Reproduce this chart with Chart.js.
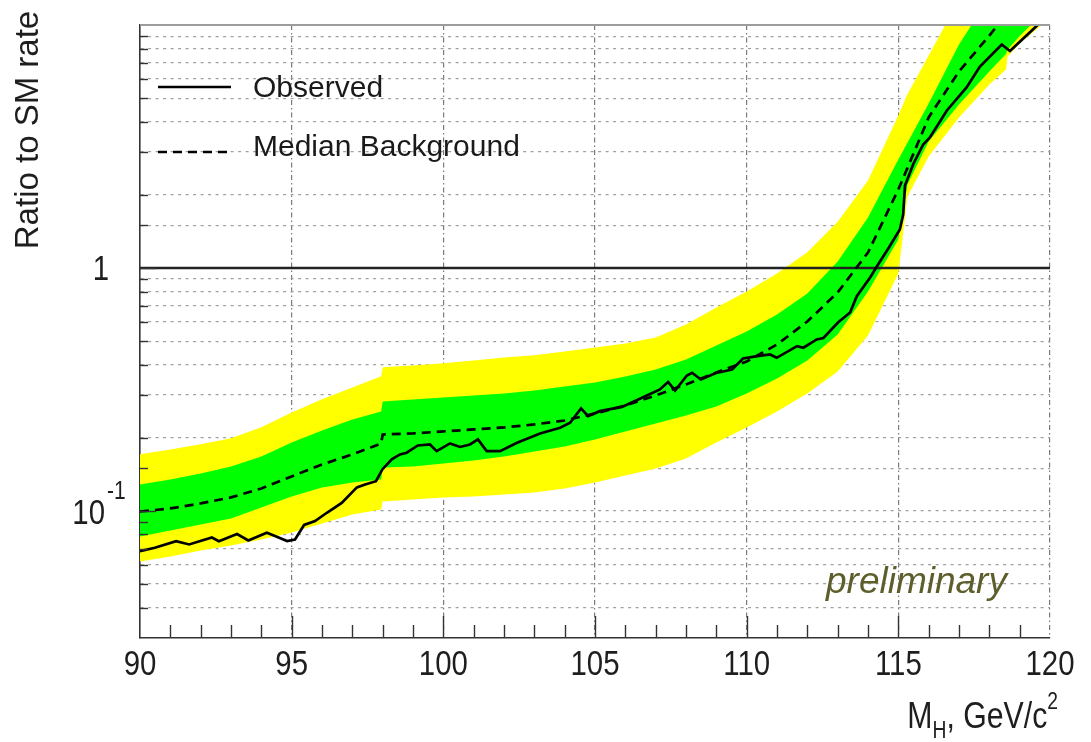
<!DOCTYPE html>
<html>
<head>
<meta charset="utf-8">
<title>Ratio to SM rate vs M_H</title>
<script src="https://cdn.jsdelivr.net/npm/chart.js@4.4.1/dist/chart.umd.min.js"></script>
<style>
  html, body { margin: 0; padding: 0; background: #ffffff; }
  canvas { display: block; }
</style>
</head>
<body>
<canvas id="limit" width="1091" height="742"></canvas>
<script>
// Higgs mass grid (GeV/c^2) shared by the expected-limit bands and the median
const BAND_MASS = [90, 91, 92, 93, 94, 95, 96, 97, 97.95, 98, 99, 100, 101, 102, 103, 104, 105, 106, 107, 108,
                   109, 110, 111, 112, 113, 114, 115, 115.3, 116, 117, 118, 118.55, 118.6, 119, 120];

// upper / lower edges of the 2-sigma (yellow) band
const YELLOW_HI = [0.171, 0.179, 0.188, 0.199, 0.221, 0.254, 0.288, 0.322, 0.358, 0.390, 0.397, 0.405, 0.416, 0.428,
                   0.437, 0.453, 0.471, 0.489, 0.518, 0.585, 0.688, 0.800, 0.949, 1.16, 1.55, 2.29, 4.24, 5.19, 7.49,
                   12.7, 20, 24, 24.5, 30, 40];
const YELLOW_LO = [0.0620, 0.0650, 0.0688, 0.0721, 0.0763, 0.0815, 0.0888, 0.0967, 0.1014, 0.1094, 0.1115, 0.1137,
                   0.1147, 0.1169, 0.1191, 0.1238, 0.1310, 0.1400, 0.1496, 0.1644, 0.1913, 0.2206, 0.2567, 0.3044,
                   0.3750, 0.5276, 0.9493, 1.969, 2.876, 4.163, 5.690, 6.561, 7.4, 8.4, 10.7];

// upper / lower edges of the 1-sigma (green) band
const GREEN_HI = [0.1285, 0.1348, 0.1427, 0.1524, 0.1676, 0.1913, 0.2145, 0.2379, 0.2567, 0.2822, 0.2875, 0.2931,
                  0.2987, 0.3044, 0.3132, 0.3253, 0.3379, 0.3577, 0.3822, 0.4202, 0.4799, 0.5479, 0.6435, 0.7854,
                  1.063, 1.614, 2.796, 3.28, 4.753, 8.31, 13, 16, 16.3, 20, 30];
const GREEN_LO = [0.0785, 0.0831, 0.0880, 0.0931, 0.1034, 0.1147, 0.1249, 0.1310, 0.1348, 0.1510, 0.1524, 0.1568,
                  0.1613, 0.1676, 0.1757, 0.1842, 0.1968, 0.2124, 0.2292, 0.2472, 0.2692, 0.3044, 0.3509, 0.4163,
                  0.5324, 0.8003, 1.310, 2.206, 3.316, 4.708, 6.437, 7.6, 7.9, 9.0, 12];

// median expected limit for background only
const MEDIAN = [0.0995, 0.1024, 0.1074, 0.1137, 0.1238, 0.1387, 0.1553, 0.1709, 0.1896, 0.2064, 0.2085, 0.2125,
                0.2165, 0.2206, 0.2270, 0.2357, 0.2518, 0.2717, 0.2987, 0.3317, 0.3715, 0.4123, 0.4843, 0.6022,
                0.7929, 1.158, 2.104, 2.58, 4.163, 6.437, 9.05, 11, 11.2, 13, 18];

// observed limit
const OBS_MASS = [90.00, 90.49, 91.19, 91.62, 92.37, 92.60, 93.20, 93.57, 94.18, 94.45,
                  94.85, 95.11, 95.41, 95.77, 96.16, 96.65, 97.15, 97.42, 97.78, 97.99,
                  98.30, 98.57, 98.79, 99.16, 99.56, 99.78, 100.22, 100.55, 100.88, 101.14,
                  101.43, 101.87, 102.43, 103.19, 103.85, 104.18, 104.54, 104.77, 105.16, 105.89,
                  106.55, 107.14, 107.41, 107.64, 108.03, 108.20, 108.49, 108.99, 109.52, 109.88,
                  110.35, 110.77, 110.99, 111.66, 111.87, 112.31, 112.53, 113.01, 113.41, 113.63,
                  114.07, 114.29, 114.69, 115.05, 115.16, 115.22, 115.49, 115.82, 116.04, 116.60,
                  117.25, 117.69, 118.41, 118.68, 119.56, 119.84];
const OBS_RATIO = [0.0683, 0.0706, 0.0751, 0.0728, 0.0778, 0.0751, 0.0804, 0.0756, 0.0813, 0.0788,
                   0.0752, 0.0763, 0.0876, 0.0908, 0.0983, 0.108, 0.125, 0.1285, 0.1326, 0.1482,
                   0.163, 0.1709, 0.1736, 0.186, 0.1878, 0.1762, 0.1896, 0.1834, 0.1878, 0.197,
                   0.1762, 0.1762, 0.1909, 0.2085, 0.22, 0.2307, 0.2642, 0.2455, 0.2575, 0.268,
                   0.2922, 0.3162, 0.3396, 0.3132, 0.361, 0.3704, 0.3476, 0.3697, 0.3822, 0.4241,
                   0.4335, 0.4406, 0.4269, 0.4767, 0.4695, 0.5079, 0.5151, 0.5966, 0.6561, 0.7655,
                   0.914, 1.014, 1.214, 1.44, 1.66, 2.185, 2.674, 3.223, 3.444, 4.448,
                   5.531, 6.749, 8.31, 7.82, 9.91, 10.7];

// SM reference (ratio = 1) across the mass range
const UNITY_MASS = [90, 120];
const UNITY_RATIO = [1, 1];

// axis labels
const X_LABELS = [90, 95, 100, 105, 110, 115, 120];
const Y_LABELS = [1, 0.1];

const FONT = '"Liberation Sans", Arial, Helvetica, sans-serif';
const NONE = 'rgba(0,0,0,0)';
const SQUEEZE = 0.84;   // horizontal condensing for the axis numerals and unit text

const pts = (xs, ys) => xs.map((x, i) => ({ x: x, y: ys[i] }));
const sameLog = (a, b) => Math.abs(Math.log10(a) - Math.log10(b)) < 1e-6;
const isDecade = v => Math.abs(Math.log10(v) - Math.round(Math.log10(v))) < 1e-6;

// draws condensed text; align is 'left', 'center' or 'right' relative to x
function condensedText(ctx, text, x, y, size, align) {
  ctx.save();
  ctx.font = size + 'px ' + FONT;
  const w = ctx.measureText(text).width * SQUEEZE;
  const left = align === 'right' ? x - w : (align === 'center' ? x - w / 2 : x);
  ctx.translate(left, y);
  ctx.scale(SQUEEZE, 1);
  ctx.textAlign = 'left';
  ctx.fillText(text, 0, 0);
  ctx.restore();
  return w;
}

// frame, inward tick marks, titles, legend and text annotations
const decorations = {
  id: 'decorations',
  afterDraw(chart) {
    const { ctx, chartArea: a } = chart;
    const xs = chart.scales.x, ys = chart.scales.y;
    ctx.save();

    // top edge of the frame
    ctx.setLineDash([]);
    ctx.strokeStyle = '#9c9c9c';
    ctx.lineWidth = 2;
    ctx.beginPath(); ctx.moveTo(a.left, a.top); ctx.lineTo(a.right, a.top); ctx.stroke();

    // inward tick marks
    ctx.strokeStyle = '#333333';
    ctx.lineWidth = 1.4;
    xs.ticks.forEach(t => {
      if (t.value <= xs.min || t.value >= xs.max) return;
      const px = Math.round(xs.getPixelForValue(t.value)) + 0.5;
      const len = t.value % 5 === 0 ? 22 : 13;
      ctx.beginPath(); ctx.moveTo(px, a.bottom); ctx.lineTo(px, a.bottom - len); ctx.stroke();
    });
    ys.ticks.forEach(t => {
      if (sameLog(t.value, ys.min) || sameLog(t.value, ys.max)) return;
      const py = Math.round(ys.getPixelForValue(t.value)) + 0.5;
      const len = isDecade(t.value) ? 16 : 8;
      ctx.beginPath(); ctx.moveTo(a.left, py); ctx.lineTo(a.left + len, py); ctx.stroke();
    });

    // x tick labels
    ctx.fillStyle = '#1e1e1e';
    ctx.textBaseline = 'middle';
    X_LABELS.forEach(v => {
      condensedText(ctx, String(v), xs.getPixelForValue(v), 665, 35, 'center');
    });

    // y tick labels: 1 and 10^-1
    Y_LABELS.forEach(v => {
      const py = ys.getPixelForValue(v);
      if (v === 1) {
        condensedText(ctx, '1', 109, py + 2, 35, 'right');
      } else {
        const exp = Math.round(Math.log10(v));
        condensedText(ctx, '10', 105, py + 3, 35, 'right');
        condensedText(ctx, String(exp), 107, py - 19, 25, 'left');
      }
    });

    // y axis title
    ctx.save();
    ctx.translate(29, 130);
    ctx.rotate(-Math.PI / 2);
    ctx.font = '33px ' + FONT;
    ctx.textAlign = 'center';
    ctx.textBaseline = 'middle';
    ctx.fillStyle = '#1e1e1e';
    ctx.fillText('Ratio to SM rate', 0, 0);
    ctx.restore();

    // x axis title: M_H, GeV/c^2
    const parts = [
      { t: 'M', size: 36, dy: 0 },
      { t: 'H', size: 23, dy: 10 },
      { t: ', GeV/c', size: 36, dy: 0 },
      { t: '2', size: 23, dy: -19 }
    ];
    let total = 0;
    parts.forEach(p => { ctx.font = p.size + 'px ' + FONT; p.w = ctx.measureText(p.t).width * SQUEEZE; total += p.w; });
    let cx = 1058 - total;
    ctx.textBaseline = 'alphabetic';
    parts.forEach(p => {
      condensedText(ctx, p.t, cx, 728 + p.dy, p.size, 'left');
      cx += p.w;
    });

    // "preliminary" tag
    ctx.font = 'italic 37px ' + FONT;
    ctx.fillStyle = '#5e5e2c';
    ctx.textAlign = 'left';
    ctx.textBaseline = 'alphabetic';
    ctx.fillText('preliminary', 826, 593);

    // legend
    const rows = [{ i: 0, ly: 87, ty: 89 }, { i: 1, ly: 152, ty: 148 }];
    rows.forEach(r => {
      const ds = chart.data.datasets[r.i];
      ctx.strokeStyle = ds.borderColor;
      ctx.lineWidth = ds.borderWidth;
      ctx.setLineDash(ds.borderDash || []);
      ctx.beginPath(); ctx.moveTo(158, r.ly); ctx.lineTo(231, r.ly); ctx.stroke();
      ctx.setLineDash([]);
      ctx.font = '30px ' + FONT;
      ctx.fillStyle = '#1a1a1a';
      ctx.textAlign = 'left';
      ctx.textBaseline = 'middle';
      ctx.fillText(ds.label, 253, r.ty);
    });

    ctx.restore();
  }
};

const bandEdge = (label, values, color, fill) => ({
  label: label,
  data: pts(BAND_MASS, values),
  borderColor: NONE,
  borderWidth: 0,
  backgroundColor: color,
  fill: fill
});

new Chart(document.getElementById('limit').getContext('2d'), {
  type: 'line',
  data: {
    datasets: [
      { label: 'Observed', data: pts(OBS_MASS, OBS_RATIO), borderColor: '#000000', borderWidth: 2.7, fill: false },
      { label: 'Median Background', data: pts(BAND_MASS, MEDIAN), borderColor: '#000000', borderWidth: 2.7,
        borderDash: [9, 6], fill: false },
      { label: 'SM', data: pts(UNITY_MASS, UNITY_RATIO), borderColor: '#222222', borderWidth: 2.5, fill: false },
      bandEdge('1 sigma upper', GREEN_HI, '#00ff00', '+1'),
      bandEdge('1 sigma lower', GREEN_LO, NONE, false),
      bandEdge('2 sigma upper', YELLOW_HI, '#ffff00', '+1'),
      bandEdge('2 sigma lower', YELLOW_LO, NONE, false)
    ]
  },
  options: {
    responsive: false,
    animation: false,
    devicePixelRatio: 1,
    layout: { padding: { left: 0, top: 25, right: 41, bottom: 0 } },
    elements: { point: { radius: 0, hoverRadius: 0 }, line: { tension: 0 } },
    plugins: { legend: { display: false }, tooltip: { enabled: false } },
    events: [],
    scales: {
      x: {
        type: 'linear',
        min: 90,
        max: 120,
        afterFit: s => { s.height = 104; },
        ticks: {
          stepSize: 1,
          maxTicksLimit: 40,
          autoSkip: false,
          maxRotation: 0,
          display: false
        },
        grid: {
          drawTicks: false,
          lineWidth: 1.2,
          color: c => (c.tick && c.tick.value % 5 === 0 && c.tick.value > 90) ? '#7a7a7a' : NONE
        },
        border: { display: true, color: '#333333', width: 1.6, dash: [5, 3, 1.5, 3] }
      },
      y: {
        type: 'logarithmic',
        min: 0.03,
        max: 10,
        afterFit: s => { s.width = 140; },
        ticks: { display: false },
        grid: {
          drawTicks: false,
          lineWidth: 1.2,
          color: c => {
            const v = c.tick && c.tick.value;
            if (!v || sameLog(v, 0.03) || sameLog(v, 10) || sameLog(v, 1)) return NONE;
            return '#a0a0a0';
          }
        },
        border: { display: true, color: '#333333', width: 1.6, dash: [3, 4.5] }
      }
    }
  },
  plugins: [decorations]
});
</script>
</body>
</html>
